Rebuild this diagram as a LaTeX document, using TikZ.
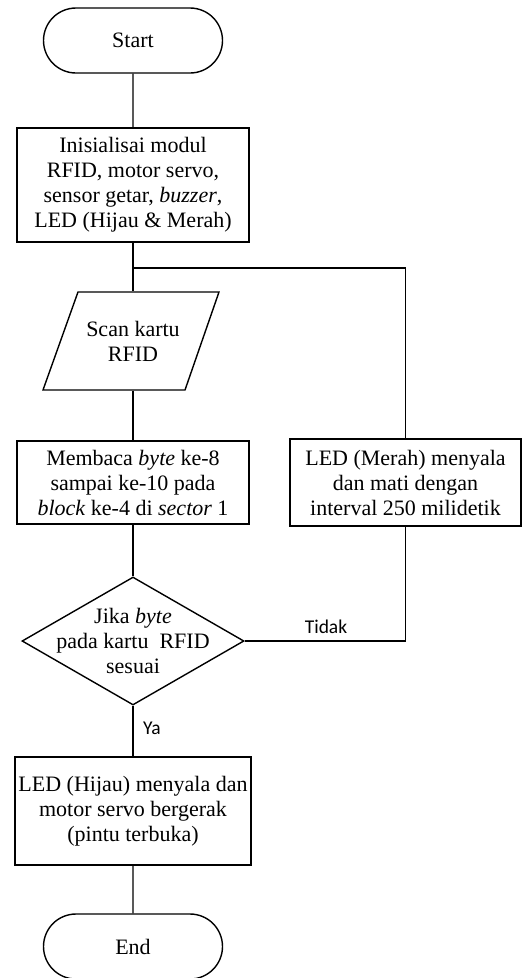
\documentclass[tikz,border=0pt]{standalone}
\usepackage{fontspec}
\setmainfont{Liberation Serif}
\newfontfamily\calib{Carlito}
\usetikzlibrary{shapes.misc,shapes.geometric,calc}
\begin{document}
\begin{tikzpicture}[x=1pt,y=-1pt,line width=1.4pt,
  txt/.style={font=\fontsize{22}{25}\selectfont, align=center},
  term/.style={rounded rectangle, draw, minimum width=179pt, minimum height=65pt, inner sep=0pt, txt},
  proc/.style={rectangle, draw, inner sep=1pt, txt},
  lab/.style={font=\calib\fontsize{19.5}{22}\selectfont, inner sep=0pt}]
\useasboundingbox (0,0) rectangle (525,978);
\node[term] (start) at (133,40.5) {Start};
\node[proc, minimum width=232pt, minimum height=114pt] (init) at (133,185)
  {Inisialisai modul\\RFID, motor servo,\\sensor getar, \textit{buzzer},\\LED (Hijau \& Merah)};
\node[txt, minimum width=106pt, minimum height=98pt, inner sep=0pt] (scan) at (133,341) {Scan kartu\\RFID};
\draw ($(scan.center)+(-55,-49)$) -- ($(scan.center)+(86,-49)$) -- ($(scan.center)+(52,49)$) -- ($(scan.center)+(-90,49)$) -- cycle;
\node[proc, minimum width=232pt, minimum height=83pt] (membaca) at (133,482.5)
  {Membaca \textit{byte} ke-8\\sampai ke-10 pada\\\textit{block} ke-4 di \textit{sector} 1};
\node[proc, minimum width=231pt, minimum height=87pt] (merah) at (405.5,482.5)
  {LED (Merah) menyala\\dan mati dengan\\interval 250 milidetik};
\node[diamond, draw, minimum width=222pt, minimum height=128pt, inner sep=0pt] (dec) at (133,641) {};
\node[txt, inner sep=0pt] (dectext) at (dec.center) {Jika \textit{byte}\\pada kartu\ \ RFID\\sesuai};
\node[proc, minimum width=236pt, minimum height=108pt] (hijau) at (133,811)
  {LED (Hijau) menyala dan\\motor servo bergerak\\(pintu terbuka)};
\node[term] (end) at (133,946.5) {End};
\coordinate (j) at (133,268);
\node[lab] (tidak) at (326,627) {Tidak};
\node[lab] (ya) at (152,728) {Ya};
\draw (start) -- (init);
\draw (init.south) -- (init.south |- scan.north);
\draw (j) -| (merah.north);
\draw (scan.south) -- (membaca.north);
\draw (membaca) -- (dec);
\draw (dec) -- (hijau);
\draw (hijau) -- (end);
\draw (dec.east) -| (merah.south);
\end{tikzpicture}
\end{document}
